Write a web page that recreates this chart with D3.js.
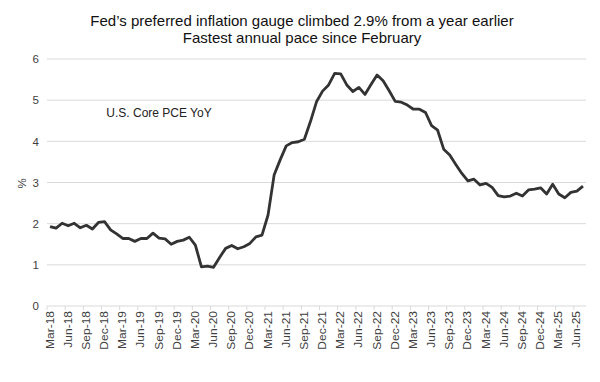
<!DOCTYPE html>
<html>
<head>
<meta charset="utf-8">
<script src="https://cdn.jsdelivr.net/npm/d3@7"></script>
<style>
  html, body { margin: 0; padding: 0; background: #fff; }
  svg { display: block; font-family: "Liberation Sans", Arial, sans-serif; }
</style>
</head>
<body>
<svg id="chart" width="600" height="382"></svg>
<script>
// ---- Data ----
const titleLines = [
  "Fed\u2019s preferred inflation gauge climbed 2.9% from a year earlier",
  "Fastest annual pace since February"
];
const seriesName = "U.S. Core PCE YoY";
const months = ["Jan","Feb","Mar","Apr","May","Jun","Jul","Aug","Sep","Oct","Nov","Dec"];
// monthly categories Mar-18 .. Jul-25
const categories = [];
for (let yr = 2018; yr <= 2025; yr++) {
  for (let m = 0; m < 12; m++) {
    if (yr === 2018 && m < 2) continue;
    if (yr === 2025 && m > 6) continue;
    categories.push(months[m] + "-" + String(yr).slice(2));
  }
}
const values = [
  // 2018 Mar-Dec
  1.93, 1.89, 2.01, 1.95, 2.01, 1.90, 1.96, 1.87, 2.03, 2.05,
  // 2019
  1.85, 1.75, 1.64, 1.64, 1.57, 1.64, 1.64, 1.77, 1.65, 1.63, 1.50, 1.57,
  // 2020
  1.60, 1.67, 1.48, 0.95, 0.97, 0.94, 1.18, 1.40, 1.47, 1.39, 1.44, 1.52,
  // 2021
  1.68, 1.72, 2.21, 3.18, 3.55, 3.89, 3.97, 3.99, 4.05, 4.48, 4.96, 5.22,
  // 2022
  5.37, 5.65, 5.64, 5.37, 5.21, 5.31, 5.14, 5.38, 5.61, 5.47, 5.23, 4.97,
  // 2023
  4.95, 4.88, 4.78, 4.78, 4.70, 4.38, 4.27, 3.81, 3.67, 3.44, 3.22, 3.04,
  // 2024
  3.08, 2.94, 2.98, 2.88, 2.68, 2.65, 2.67, 2.74, 2.67, 2.82, 2.84, 2.87,
  // 2025 Jan-Jul
  2.72, 2.96, 2.72, 2.63, 2.76, 2.79, 2.91
];
const yTicks = [0, 1, 2, 3, 4, 5, 6];
const yLabel = "%";
// label every 3rd month starting with Mar-18
const xTickLabels = categories.filter((d, i) => i % 3 === 0);

// ---- Layout ----
const svg = d3.select("#chart");
const mLeft = 47, mRight = 586, mTop = 59, mBottom = 306;

const x = d3.scaleBand().domain(categories).range([mLeft, mRight]).padding(0);
const y = d3.scaleLinear().domain([0, 6]).range([mBottom, mTop]);

// Title
svg.append("g").selectAll("text").data(titleLines).join("text")
  .attr("x", 302).attr("y", (d, i) => 26 + i * 17)
  .attr("text-anchor", "middle")
  .attr("font-size", 15)
  .attr("fill", "#111")
  .text(d => d);

// Gridlines
svg.append("g").selectAll("line").data(yTicks.filter(d => d > 0)).join("line")
  .attr("x1", mLeft).attr("x2", mRight)
  .attr("y1", d => y(d)).attr("y2", d => y(d))
  .attr("stroke", "#d9d9d9").attr("stroke-width", 1);

// Y axis labels
const yAxis = d3.axisLeft(y).tickValues(yTicks).tickSize(0).tickPadding(8).tickFormat(d3.format("d"));
const gy = svg.append("g").attr("transform", `translate(${mLeft},0)`).call(yAxis);
gy.select(".domain").remove();
gy.selectAll("text").attr("font-size", 11.5).attr("fill", "#404040")
  .attr("font-family", "Liberation Sans, Arial, sans-serif");

// Y label
svg.append("text")
  .attr("transform", `translate(26,${y(3) + 1}) rotate(-90)`)
  .attr("text-anchor", "middle")
  .attr("font-size", 11.5).attr("fill", "#404040")
  .text(yLabel);

// X axis
const tickBoundaries = categories.filter((d, i) => i % 3 === 0);
const gx = svg.append("g").attr("transform", `translate(0,${mBottom})`);
gx.append("line").attr("x1", mLeft).attr("x2", mRight).attr("y1", 0).attr("y2", 0)
  .attr("stroke", "#d9d9d9").attr("stroke-width", 1);
gx.selectAll("line.tick").data(tickBoundaries).join("line").attr("class", "tick")
  .attr("x1", d => x(d)).attr("x2", d => x(d))
  .attr("y1", 0).attr("y2", 4)
  .attr("stroke", "#d9d9d9").attr("stroke-width", 1);
gx.selectAll("text").data(xTickLabels).join("text")
  .attr("transform", d => `translate(${x(d) + x.bandwidth() / 2 + 3.5},5) rotate(-90) scale(1,0.88)`)
  .attr("text-anchor", "end")
  .attr("font-size", 12)
  .attr("fill", "#404040")
  .text(d => d);

// Line
const line = d3.line()
  .x((d, i) => x(categories[i]) + x.bandwidth() / 2)
  .y(d => y(d));
svg.append("path").datum(values)
  .attr("d", line)
  .attr("fill", "none")
  .attr("stroke", "#333333")
  .attr("stroke-width", 2.8)
  .attr("stroke-linejoin", "round");

// Series label
svg.append("text")
  .attr("x", 159).attr("y", 117)
  .attr("text-anchor", "middle")
  .attr("font-size", 12)
  .attr("fill", "#222")
  .text(seriesName);
</script>
</body>
</html>
